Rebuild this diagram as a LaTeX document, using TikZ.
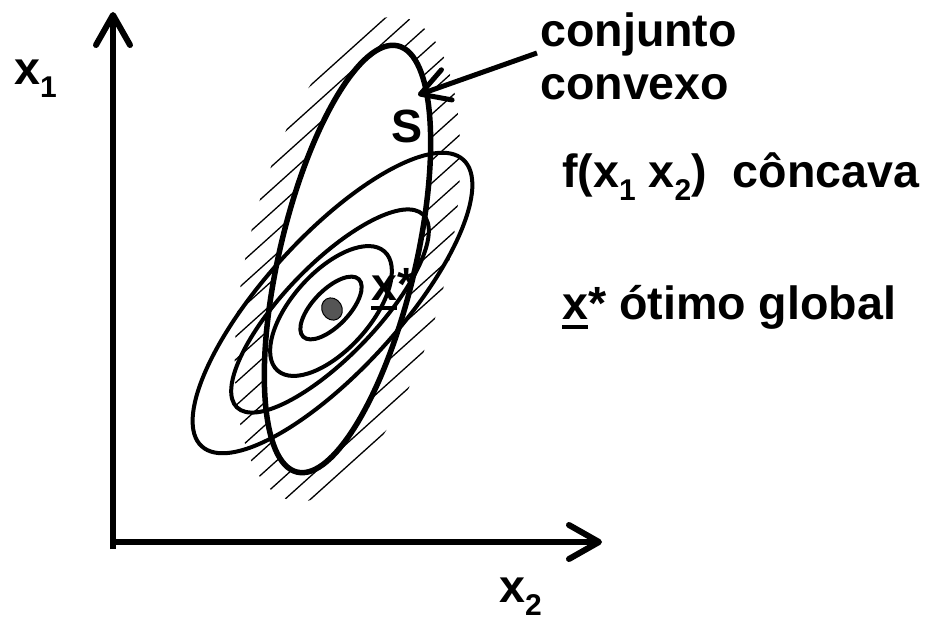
\documentclass[tikz,border=0pt]{standalone}
\usepackage{fontspec}
\setmainfont{Liberation Sans}
\usetikzlibrary{arrows.meta}
\definecolor{dotgray}{RGB}{85,85,85}
\newcommand\lowsub[1]{\raisebox{-13pt}{\fontsize{30}{30}\selectfont #1}}
\newcommand\ulx{\rlap{\rule[-10pt]{25.9pt}{4pt}}x}
\begin{document}
\begin{tikzpicture}[x=1pt,y=-1pt,
  lbl/.style={font=\bfseries\fontsize{46.6}{50}\selectfont, inner sep=0pt, anchor=base west},
  axis/.style={line width=6pt, -{Straight Barb[length=30pt,width=34pt,round]}},
  pointer/.style={line width=5pt, -{Straight Barb[length=28pt,width=32pt,round]}},
  contour/.style={line width=4pt},
  setline/.style={line width=5.5pt},
  hatch/.style={line width=1.3pt}]
\useasboundingbox (0,0) rectangle (932,623);
\coordinate (Sc) at (347.5,259);
% hatching outside the convex set
\begin{scope}
  \clip[rotate around={-13.3:(Sc)}] (Sc) ellipse [x radius=100, y radius=248];
  \begin{scope}[even odd rule]
    \clip[rotate around={-13.3:(Sc)}] (-600,-600) rectangle (1600,1600) (Sc) ellipse [x radius=68, y radius=219];
    \foreach \i in {-20,...,20}
      \draw[hatch] (347.5+\i*11.44, 259+\i*12.7) ++(-223,200.7) -- ++(446,-401.4);
  \end{scope}
\end{scope}
% level curves
\coordinate (E1) at (331,308);
\coordinate (E2) at (331,311);
\coordinate (E3) at (330,311);
\coordinate (E4) at (332.5,303);
\draw[contour, rotate around={46:(E1)}] (E1) ellipse [x radius=40, y radius=18];
\draw[contour, rotate around={48:(E2)}] (E2) ellipse [x radius=80, y radius=39];
\draw[contour, rotate around={46:(E3)}] (E3) ellipse [x radius=134, y radius=46];
\draw[contour, rotate around={47.6:(E4)}] (E4) ellipse [x radius=194, y radius=67];
% convex set S
\draw[setline, rotate around={-13.3:(Sc)}] (Sc) ellipse [x radius=68, y radius=219];
% optimum point
\coordinate (dot) at (332,309);
\draw[line width=1pt, fill=dotgray, rotate around={30:(dot)}] (dot) ellipse [x radius=10, y radius=11.5];
% axes
\coordinate (O) at (113,549);
\coordinate (ytip) at (113,12);
\coordinate (Oh) at (110,542);
\coordinate (xtip) at (602,542);
\draw[axis] (O) -- (ytip);
\draw[axis] (Oh) -- (xtip);
% labels
\node[lbl] (xone) at (14,85) {x\lowsub{1}};
\node[lbl] (xtwo) at (499,602) {x\lowsub{2}};
\node[lbl] (conj) at (540,47) {conjunto};
\node[lbl] (conv) at (540,100) {convexo};
\node[lbl] (Slab) at (391,143) {S};
\node[lbl] (xstar) at (371,300) {\ulx*};
\node[lbl] (fun) at (562,188) {f(x\lowsub{1} x\lowsub{2})\ \ côncava};
\node[lbl] (opt) at (562,319) {\ulx* ótimo global};
% pointer to the set boundary
\coordinate (astart) at (537,53);
\coordinate (atip) at (418,95);
\draw[pointer] (astart) -- (atip);
\end{tikzpicture}
\end{document}
